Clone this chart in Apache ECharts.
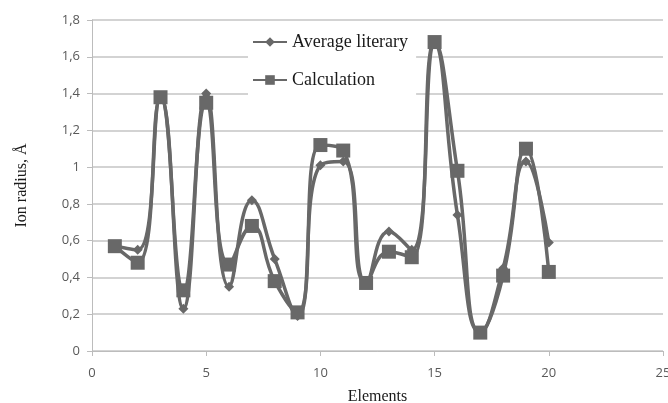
<!DOCTYPE html>
<html>
<head>
<meta charset="utf-8">
<script src="https://cdn.jsdelivr.net/npm/echarts@6/dist/echarts.min.js"></script>
<style>
html,body{margin:0;padding:0;background:#fff;}
#chart{width:668px;height:403px;}
</style>
</head>
<body>
<div id="chart"></div>
<script>
// elements 1..20
var elements = [1,2,3,4,5,6,7,8,9,10,11,12,13,14,15,16,17,18,19,20];
// average literary values (diamonds)
var avgLiterary = [0.57,0.55,1.38,0.23,1.40,0.35,0.82,0.50,0.19,1.01,1.03,0.37,0.65,0.55,1.67,0.74,0.10,0.45,1.03,0.59];
// calculated values (squares)
var calculation = [0.57,0.48,1.38,0.33,1.35,0.47,0.68,0.38,0.21,1.12,1.09,0.37,0.54,0.51,1.68,0.98,0.10,0.41,1.10,0.43];

function toPairs(xs, ys){
	var out = [];
	for(var i=0;i<xs.length;i++){
		out.push([xs[i], ys[i]]);
	}
	return out;
}

var chart = echarts.init(document.getElementById('chart'));
var lineColor = '#686868';
var option = {
	animation:false,
	grid:{
		left:92,
		right:5,
		top:20,
		bottom:52,
		outerBoundsMode:'none'
	},
	legend:{
		orient:'vertical',
		left:248,
		top:28,
		itemGap:20,
		itemWidth:34,
		itemHeight:12,
		backgroundColor:'#fff',
		padding:[5,8,10,4],
		textStyle:{
			fontFamily:'Liberation Serif',
			fontSize:18,
			color:'#1a1a1a'
		},
		data:['Average literary','Calculation']
	},
	xAxis:{
		type:'value',
		min:0,
		max:25,
		interval:5,
		name:'Elements',
		nameLocation:'middle',
		nameGap:38,
		nameTextStyle:{
			fontFamily:'Liberation Serif',
			fontSize:16,
			color:'#1a1a1a'
		},
		axisLine:{show:true,lineStyle:{color:'#bcbcbc',width:1}},
		axisTick:{show:true,length:5,lineStyle:{color:'#bcbcbc'}},
		axisLabel:{
			margin:16,
			fontFamily:'Open Sans',
			fontSize:13,
			color:'#595959'
		},
		splitLine:{show:false}
	},
	yAxis:{
		type:'value',
		min:0,
		max:1.8,
		interval:0.2,
		name:'Ion radius, Å',
		nameLocation:'middle',
		nameGap:62,
		nameRotate:90,
		nameTextStyle:{
			fontFamily:'Liberation Serif',
			fontSize:16,
			color:'#1a1a1a'
		},
		axisLine:{show:true,lineStyle:{color:'#bcbcbc',width:1}},
		axisTick:{show:true,length:5,lineStyle:{color:'#bcbcbc'}},
		axisLabel:{
			margin:12,
			fontFamily:'Open Sans',
			fontSize:13,
			color:'#595959',
			formatter:function(v){
				return (Math.round(v*10)/10).toString().replace('.',',');
			}
		},
		splitLine:{show:true,lineStyle:{color:'#c4c4c4',width:1.5}}
	},
	series:[{
		name:'Average literary',
		type:'line',
		smooth:0.5,
		symbol:'diamond',
		symbolSize:10,
		lineStyle:{color:lineColor,width:3.5},
		itemStyle:{color:lineColor},
		data:toPairs(elements, avgLiterary)
	},{
		name:'Calculation',
		type:'line',
		smooth:0.5,
		symbol:'rect',
		symbolSize:14,
		lineStyle:{color:lineColor,width:3.5},
		itemStyle:{color:lineColor},
		data:toPairs(elements, calculation)
	}]
};
chart.setOption(option);
</script>
</body>
</html>
